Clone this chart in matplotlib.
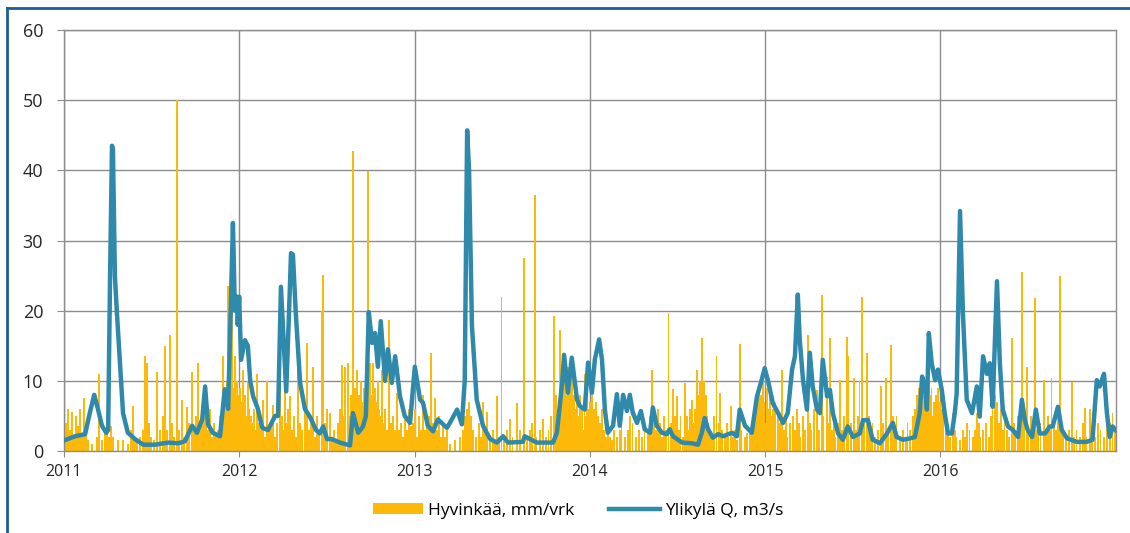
import matplotlib
matplotlib.use("Agg")
import matplotlib.pyplot as plt
import pandas as pd
from matplotlib.lines import Line2D

# days since 2011-01-01
q_day = [0, 23, 44, 54, 63, 71, 79, 88, 92, 96, 100, 102, 106, 110, 117, 123, 133, 148, 165, 190,
         217, 238, 252, 267, 277, 288, 294, 300, 310, 325, 335, 342, 352, 356, 360, 362, 365, 369,
         377, 383, 388, 394, 404, 413, 425, 440, 446, 452, 463, 469, 473, 477, 483, 492, 502, 513,
         525, 533, 540, 548, 558, 575, 596, 602, 613, 623, 629, 635, 642, 648, 654, 660, 669, 675,
         683, 690, 700, 710, 721, 731, 742, 748, 758, 769, 779, 790, 798, 808, 819, 829, 835, 840,
         844, 850, 860, 873, 888, 902, 915, 925, 956, 960, 985, 1019, 1027, 1038, 1042, 1050, 1058,
         1069, 1075, 1085, 1092, 1100, 1106, 1115, 1121, 1127, 1133, 1144, 1152, 1158, 1165, 1173,
         1179, 1185, 1194, 1202, 1210, 1221, 1227, 1235, 1246, 1256, 1262, 1269, 1288, 1308, 1321,
         1329, 1335, 1342, 1352, 1363, 1373, 1392, 1402, 1408, 1419, 1433, 1444, 1454, 1460, 1467,
         1477, 1488, 1498, 1508, 1517, 1523, 1529, 1533, 1540, 1548, 1554, 1560, 1569, 1575, 1581,
         1590, 1596, 1602, 1613, 1623, 1633, 1644, 1658, 1665, 1675, 1685, 1700, 1715, 1727, 1735,
         1748, 1763, 1773, 1783, 1788, 1794, 1798, 1802, 1808, 1815, 1821, 1829, 1835, 1842, 1850,
         1856, 1860, 1867, 1873, 1881, 1892, 1902, 1908, 1915, 1923, 1929, 1935, 1944, 1950, 1956,
         1967, 1977, 1988, 1996, 2002, 2008, 2017, 2025, 2033, 2044, 2054, 2060, 2071, 2079, 2090,
         2110, 2131, 2143, 2152, 2158, 2167, 2173, 2179, 2185, 2191]
q_val = [1.5, 2.1, 2.4, 5.5, 8.0, 5.9, 3.6, 2.6, 3.0, 25, 43.5, 43, 25, 20, 12, 5.4, 2.6, 1.7, 0.9, 0.9,
         1.2, 1.1, 1.4, 3.6, 2.6, 4.5, 9.2, 3.8, 2.6, 2.1, 8.8, 6.0, 32.5, 20, 22, 18, 22, 13,
         15.8, 15, 10, 7.8, 6, 3.3, 3.0, 5, 5, 23.4, 8.5, 20, 28.2, 28, 19.6, 9.7, 6, 4.8,
         3, 2.5, 3.5, 1.7, 1.7, 1.2, 0.8, 5.4, 2.6, 3.5, 5, 19.8, 15.4, 16.8, 12, 18.5, 10, 14.5,
         9.7, 13.5, 7.8, 5, 4, 12, 7.3, 6.9, 3.6, 2.8, 4.5, 3.8, 3.3, 4.5, 5.9, 3.8, 10, 45.7,
         40, 17.8, 7.3, 3.6, 1.7, 1.2, 2.1, 1.2, 1.3, 2.1, 1.2, 1.2, 2.6, 9.7, 13.7, 8.3, 13.3,
         7.3, 6.4, 5.9, 12.6, 8.3, 13, 15.9, 13, 5.9, 2.6, 3.6, 8.1, 3.6, 8, 5.7,
         8, 5.5, 4, 5.7, 3.1, 2.6, 6.2, 3.6, 2.6, 2.4, 3.1, 2.1, 1.2, 1.1, 0.9,
         2.6, 4.7, 3.1, 1.9, 2.4, 2.1, 2.6, 2.1, 5.9, 3.6, 2.6, 7.8, 10.2, 11.8, 10,
         6.8, 5.4, 4, 5.4, 11.6, 13.5, 22.3, 15.9, 10, 5.9, 14, 9.2, 5.9, 5.4, 13,
         7.8, 8.7, 5.4, 2.5, 1.6, 3.5, 2, 2.5, 4.4, 4.4, 1.6, 1.1, 2.5, 4, 2,
         1.6, 1.8, 2, 5.4, 10.6, 9.2, 5.9, 16.8, 12.5, 10.1, 11.6, 8.7, 5.4, 2.5, 2.5,
         5.4, 8.2, 34.2, 19.7, 7.3, 5.4, 9.2, 4.9, 13.5, 11, 12.5, 6.3, 24.2, 12.5, 5.9,
         3.5, 3, 2, 7.3, 4.4, 3, 2, 5.9, 2.5, 2.5, 3.5, 3.5, 6.3, 3, 1.8,
         1.3, 1.3, 1.6, 10.1, 9.2, 11, 5.4, 2, 3.5, 3]

rain_day = [4, 8, 12, 17, 21, 25, 29, 33, 38, 42, 46, 50, 58, 69, 73, 79, 85, 90, 94, 98, 102, 113,
            123, 133, 140, 144, 148, 152, 158, 165, 169, 173, 177, 181, 188, 194, 200, 206, 210, 215,
            221, 225, 229, 235, 240, 246, 250, 256, 260, 267, 271, 275, 279, 283, 288, 292, 296, 300,
            304, 308, 313, 317, 321, 325, 329, 331, 335, 338, 340, 342, 344, 346, 348, 350, 352, 354,
            356, 358, 360, 362, 365, 367, 369, 371, 373, 375, 377, 379, 381, 383, 385, 388, 390, 392,
            396, 398, 402, 406, 411, 415, 419, 423, 427, 431, 435, 440, 444, 450, 454, 456, 460, 465,
            467, 471, 475, 479, 483, 488, 492, 496, 502, 506, 510, 515, 519, 523, 527, 531, 537, 540,
            544, 548, 554, 558, 563, 567, 571, 575, 579, 581, 585, 587, 592, 596, 598, 602, 604, 606,
            611, 613, 615, 617, 619, 621, 623, 625, 627, 629, 633, 635, 638, 640, 642, 644, 646, 648,
            650, 652, 654, 656, 658, 663, 665, 669, 673, 677, 681, 685, 690, 694, 698, 702, 706, 710,
            715, 719, 723, 727, 731, 735, 740, 744, 748, 752, 756, 760, 765, 769, 773, 777, 781, 785,
            790, 794, 798, 804, 815, 825, 831, 835, 840, 844, 848, 852, 858, 865, 869, 873, 877, 881,
            888, 894, 898, 902, 906, 912, 917, 923, 929, 935, 944, 950, 958, 965, 971, 975, 981, 985,
            992, 998, 1004, 1010, 1015, 1021, 1025, 1027, 1029, 1033, 1035, 1038, 1040, 1042, 1044,
            1046, 1048, 1050, 1052, 1054, 1056, 1058, 1060, 1063, 1065, 1067, 1069, 1071, 1075, 1077,
            1079, 1081, 1085, 1088, 1090, 1092, 1094, 1096, 1098, 1100, 1102, 1104, 1106, 1108, 1113,
            1117, 1121, 1125, 1129, 1133, 1138, 1142, 1146, 1152, 1158, 1162, 1169, 1175, 1179, 1185,
            1192, 1198, 1204, 1210, 1217, 1221, 1225, 1229, 1233, 1238, 1242, 1246, 1250, 1254, 1260,
            1265, 1269, 1273, 1277, 1281, 1285, 1290, 1294, 1298, 1302, 1304, 1308, 1313, 1315, 1319,
            1321, 1323, 1325, 1327, 1329, 1331, 1333, 1335, 1338, 1340, 1342, 1346, 1350, 1354, 1360,
            1365, 1367, 1371, 1377, 1381, 1385, 1390, 1394, 1398, 1402, 1408, 1412, 1419, 1423, 1429,
            1433, 1438, 1440, 1442, 1444, 1446, 1448, 1450, 1452, 1454, 1456, 1458, 1460, 1463, 1465,
            1467, 1469, 1471, 1473, 1475, 1477, 1479, 1481, 1483, 1488, 1492, 1496, 1500, 1504, 1508,
            1513, 1519, 1523, 1527, 1531, 1535, 1540, 1544, 1550, 1554, 1558, 1563, 1569, 1573, 1579,
            1583, 1590, 1594, 1596, 1600, 1604, 1608, 1613, 1617, 1621, 1625, 1631, 1635, 1640, 1646,
            1650, 1654, 1658, 1663, 1667, 1673, 1677, 1681, 1685, 1690, 1696, 1702, 1706, 1713, 1717,
            1723, 1727, 1731, 1735, 1742, 1748, 1754, 1758, 1763, 1769, 1773, 1777, 1779, 1781, 1783,
            1785, 1788, 1790, 1792, 1794, 1796, 1798, 1800, 1802, 1804, 1806, 1808, 1810, 1813, 1815,
            1817, 1819, 1821, 1823, 1825, 1827, 1829, 1831, 1833, 1838, 1842, 1846, 1852, 1856, 1860,
            1867, 1873, 1877, 1881, 1887, 1894, 1898, 1902, 1906, 1910, 1915, 1921, 1927, 1931, 1935,
            1940, 1942, 1944, 1948, 1952, 1956, 1960, 1965, 1969, 1975, 1979, 1983, 1988, 1992, 1996,
            2000, 2006, 2010, 2015, 2019, 2023, 2027, 2031, 2035, 2042, 2046, 2050, 2054, 2058, 2063,
            2067, 2071, 2075, 2079, 2083, 2088, 2094, 2100, 2104, 2110, 2117, 2123, 2127, 2131, 2138,
            2142, 2148, 2154, 2160, 2167, 2173, 2179, 2185, 2190]
rain_mm = [4, 6, 3, 5.5, 2, 5, 3.5, 6, 2, 7.5, 3, 1.5, 1, 2, 11, 1.5, 3, 4, 2, 3.5, 2, 1.5,
           1.5, 1, 3, 6.4, 2, 1.5, 2, 3, 13.5, 12.6, 4, 2, 1.5, 11.3, 3, 5, 14.9, 3,
           16.6, 4, 2, 50, 3, 7.3, 2, 6.3, 4, 11.3, 3, 5, 12.5, 4, 6, 8, 5, 3,
           6, 2, 4, 2.5, 3, 5, 6, 13.5, 8, 6, 10, 23.5, 9, 7, 12, 21, 8, 9,
           13.5, 7, 10, 8, 6, 9, 7, 5, 11.6, 6, 8, 5, 4, 10, 6, 3, 5, 4,
           6, 3, 11, 4, 3, 7.3, 2, 10, 3, 4, 6.5, 2, 4, 14, 5, 3, 13, 4,
           6, 7.8, 3, 5, 2, 11.6, 4, 3, 6, 15.4, 3, 4, 12, 2, 5, 3, 20, 25.1,
           4, 6, 5.4, 2, 3, 1.5, 4, 6, 12.3, 5, 12, 6, 12.5, 5, 8, 42.8, 7, 9,
           11.6, 6, 8, 5, 10, 7, 6, 9, 5, 8, 39.9, 7, 12.5, 8, 6, 12.5, 7, 9,
           5, 7, 10, 6, 5, 11.6, 4, 6, 3, 18.7, 4, 5, 3, 8.2, 3, 4, 2, 5,
           3, 6, 3.5, 4, 6, 2, 5, 3, 8, 3, 4, 5, 14, 4, 7.5, 3, 5, 2,
           4, 2, 3, 1, 1.5, 2, 3, 5, 6, 7, 5, 3, 2, 4, 2, 7, 3, 5.5,
           2, 3, 1.5, 7.8, 2, 22, 2, 3, 4.5, 2, 6.8, 3, 27.5, 2, 3, 4, 36.5, 2,
           3, 4.5, 2, 3, 5, 19.2, 8, 6, 5, 17.3, 9, 7, 11, 6, 10,
           8, 5, 12, 7, 9, 6, 13, 5, 8, 6, 4, 7, 5, 8, 4,
           6, 3, 11, 5, 8, 6, 4, 7, 5, 8, 4, 6, 3, 7, 5,
           4, 6, 3, 2, 4, 2, 1.5, 3, 2, 3, 5, 2, 3, 5, 4,
           2, 3, 2, 4, 3, 5, 11.6, 4, 3, 6, 4, 2, 5, 3, 19.7,
           4, 8.8, 5, 7.8, 3, 5, 2, 9.7, 5, 3, 6, 7.3, 4, 6, 11.6,
           6, 8, 10, 7, 16.1, 9, 10, 6, 8, 5, 4, 3, 2, 5, 13.5,
           4, 8.3, 3, 2, 4, 2, 6.4, 2, 3, 1.5, 15.2, 3, 2, 2.5, 3,
           4, 6, 5, 8, 4, 7, 9, 5, 8, 6, 10, 5, 7, 4, 9,
           6, 4, 8, 5, 3, 6, 4, 7, 3, 5, 4, 11.6, 3, 5, 2,
           4, 5, 3, 6, 4, 2, 5, 3, 16.6, 4, 3, 6, 8.7, 3, 22.3,
           5, 10.6, 4, 16.1, 3, 5, 2, 4, 10.1, 3, 5, 16.3, 13.5, 4, 10.4,
           3, 5, 10, 22, 4, 14, 5, 3, 4, 2, 3, 9.2, 4, 10.4, 3,
           15.1, 5, 3, 5, 2, 3, 2, 4, 3, 5, 6, 8, 5, 9, 7,
           10, 6, 8, 5, 9, 6, 4, 7, 10, 8, 6, 9, 5, 7, 4,
           8, 6, 9, 5, 7, 4, 6, 3, 5, 4, 3, 2, 5.4, 3, 2,
           1.5, 3, 2, 4, 3, 2, 3, 5.4, 4, 2, 3, 4, 2, 5, 6,
           8, 5, 7, 4, 6, 3, 5, 3, 2, 16.1, 4, 3, 5, 3, 25.5,
           4, 12, 3, 5, 4, 21.8, 3, 5, 4, 10.1, 3, 5, 3, 10.4, 4,
           3, 6, 25, 4, 3, 2, 3, 9.9, 2, 3, 2, 4, 6.1, 2, 6,
           3, 2, 4, 3, 2, 5, 4, 5.4, 3]

year_ticks = ["2011", "2012", "2013", "2014", "2015", "2016"]
rain_label = "Hyvinkää, mm/vrk"
q_label = "Ylikylä Q, m3/s"

start = pd.Timestamp("2011-01-01")
q_x = start + pd.to_timedelta(q_day, unit="D")
rain_x = start + pd.to_timedelta(rain_day, unit="D")

plt.rcParams["font.family"] = ["Open Sans", "DejaVu Sans"]
fig = plt.figure(figsize=(11.3, 5.33), dpi=100)
ax = fig.add_axes([64 / 1130, 82 / 533, 1052 / 1130, 421 / 533])

bars = ax.bar(rain_x, rain_mm, width=3.2, color="#FDB90A", linewidth=0, label=rain_label, zorder=2)
line, = ax.plot(q_x, q_val, color="#2E89AB", lw=3.2, label=q_label, zorder=3, solid_joinstyle="round")

ticks = [pd.Timestamp(y + "-01-01") for y in year_ticks]
ax.set_xticks(ticks)
ax.set_xticklabels(year_ticks)
ax.set_xlim(start, pd.Timestamp("2017-01-01"))
ax.set_ylim(0, 60)
ax.set_yticks(range(0, 61, 10))

grid_c = "#8c8c8c"
ax.grid(True, color=grid_c, lw=1)
ax.set_axisbelow(True)
for s in ax.spines.values():
    s.set_color(grid_c)
    s.set_linewidth(1)
ax.tick_params(axis="y", length=5, color=grid_c, pad=10, labelsize=13, labelcolor="#262626")
ax.tick_params(axis="x", length=4, color=grid_c, pad=5, labelsize=11.5, labelcolor="#262626")

ax.legend([bars, line], [rain_label, q_label], loc="center",
          bbox_to_anchor=(578 / 1130, 22 / 533), bbox_transform=fig.transFigure,
          ncol=2, frameon=False, fontsize=12.5, handlelength=2.9, handleheight=0.6,
          handletextpad=0.3, columnspacing=2.0)

# blue frame (top and left edges)
border = "#1F5C99"
fig.add_artist(Line2D([7 / 1130, 7 / 1130], [0, 1 - 8 / 533], color=border, lw=2))
fig.add_artist(Line2D([7 / 1130, 1], [1 - 8 / 533, 1 - 8 / 533], color=border, lw=2))

fig.savefig("out.png", dpi=100)
